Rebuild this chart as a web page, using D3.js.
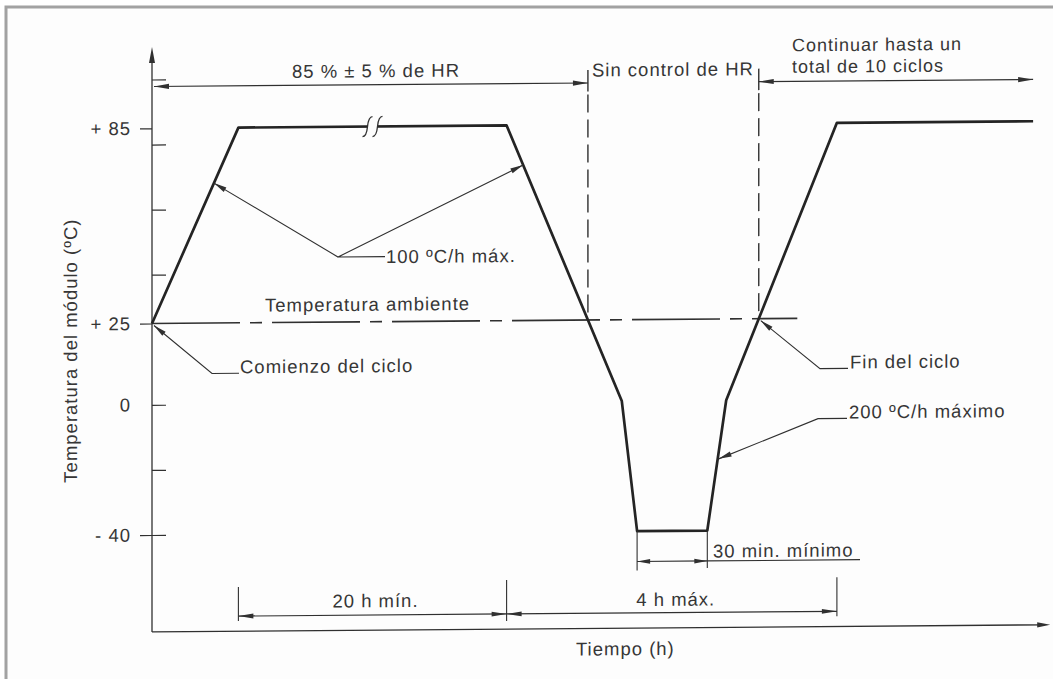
<!DOCTYPE html>
<html>
<head>
<meta charset="utf-8">
<script src="https://cdn.jsdelivr.net/npm/d3@7"></script>
<style>
  html, body { margin: 0; padding: 0; background: #fff; }
  svg text {
    font-family: "Liberation Sans", Arial, Helvetica, sans-serif;
    font-size: 18.5px;
    letter-spacing: 1px;
    fill: #363636;
  }
  svg text.tight { font-size: 18px; }
</style>
</head>
<body>
<svg id="chart" width="1053" height="679"></svg>
<script>
// Humidity-freeze cycle: module temperature (ºC) against schematic time
const profileTime = [0, 9.6, 39.4, 52.2, 53.9, 61.7, 63.8, 76.1, 97.9];
const profileTemp = [25, 85, 85, 0, -40, -40, 0, 85, 85];

// Y-axis ticks
const tickLeft = [85, 25, 0, -40];
const tickLeftLabels = ["+ 85", "+ 25", "0", "- 40"];
const tickRight = [100, 80, 60, 40, 0, -20, -40];

// Reference levels
const ambientTemp = 25;
const ambientEnd = 71.7;        // time where the ambient line stops
const axisTempRange = [-69.8, 110];
const axisTimeEnd = 99.8;

// Rates marked on the ramps (temperature at the arrow tip)
const heatRateTips = [68, 72.8];
const coolRateTip = -18;

// Texts
const yTitle = "Temperatura del módulo (ºC)";
const xTitle = "Tiempo (h)";
const humidityLabel = "85 % ± 5 % de HR";
const noControlLabel = "Sin control de HR";
const continueLabel = ["Continuar hasta un", "total de 10 ciclos"];
const ambientLabel = "Temperatura ambiente";
const startLabel = "Comienzo del ciclo";
const endLabel = "Fin del ciclo";
const heatRateLabel = "100 ºC/h máx.";
const coolRateLabel = "200 ºC/h máximo";
const soakLabel = "20 h mín.";
const coldLabel = "4 h máx.";
const dwellLabel = "30 min. mínimo";

const profile = profileTime.map((t, i) => ({ t, T: profileTemp[i] }));

const svg = d3.select("#chart");
const INK = "#303030";

// page frame
svg.append("rect")
  .attr("x", 6).attr("y", 7).attr("width", 1070).attr("height", 700)
  .attr("fill", "#fdfdfd").attr("stroke", "#a2a2a2").attr("stroke-width", 3);

// slight upward slant across the drawing
const g = svg.append("g").attr("transform", "translate(0,1.22) skewY(-0.46)");

const x = d3.scaleLinear().domain([0, 100]).range([152, 1052]);
const y = d3.scaleLinear().domain([-40, 85]).range([535, 128.3]);

// time on segment i..i+1 where the profile reaches temperature T
function timeAt(i, T) {
  const a = profile[i], b = profile[i + 1];
  return a.t + (b.t - a.t) * (T - a.T) / (b.T - a.T);
}
const hrStart = timeAt(2, ambientTemp);
const hrEnd = timeAt(6, ambientTemp);
const soakStart = profile[1].t, soakEnd = profile[2].t;
const coldStart = profile[4].t, coldEnd = profile[5].t;
const nextSoak = profile[7].t, lastT = profile[8].t;

function arrowHead(sel, tx, ty, fx, fy, len, hw) {
  const dx = tx - fx, dy = ty - fy, d = Math.hypot(dx, dy);
  const ux = dx / d, uy = dy / d;
  const bx = tx - ux * len, by = ty - uy * len;
  sel.append("path")
    .attr("d", `M${tx},${ty}L${bx - uy * hw},${by + ux * hw}L${bx + uy * hw},${by - ux * hw}Z`)
    .attr("fill", INK);
}
function line(sel, x1, y1, x2, y2, w, dash) {
  const l = sel.append("line")
    .attr("x1", x1).attr("y1", y1).attr("x2", x2).attr("y2", y2)
    .attr("stroke", INK).attr("stroke-width", w || 1.2);
  if (dash) l.attr("stroke-dasharray", dash);
  return l;
}
function dimension(sel, x1, x2, yy, len, hw) {
  line(sel, x1, yy, x2, yy, 1.2);
  arrowHead(sel, x1, yy, x2, yy, len, hw);
  arrowHead(sel, x2, yy, x1, yy, len, hw);
}
function text(sel, str, tx, ty, anchor) {
  return sel.append("text").attr("x", tx).attr("y", ty)
    .attr("text-anchor", anchor || "start").text(str);
}

// ---- axes ----
const x0 = x(0), yBottom = y(axisTempRange[0]), yTop = y(axisTempRange[1]);
line(g, x0, yBottom, x0, yTop + 6, 1.3);
arrowHead(g, x0, yTop, x0, yBottom, 16, 3);
line(g, x0, yBottom, x(axisTimeEnd) - 6, yBottom, 1.3);
arrowHead(g, x(axisTimeEnd), yBottom, x0, yBottom, 13, 2.6);

const axL = g.append("g")
  .attr("transform", `translate(${x0},0)`)
  .style("color", INK)
  .call(d3.axisLeft(y).tickValues(tickLeft)
    .tickFormat((d, i) => tickLeftLabels[i])
    .tickSizeInner(12).tickSizeOuter(0).tickPadding(9));
axL.select(".domain").remove();
axL.selectAll(".tick line").attr("stroke-width", 1.2).filter(d => d === 0).remove();

const axR = g.append("g")
  .attr("transform", `translate(${x0},0)`)
  .style("color", INK)
  .call(d3.axisRight(y).tickValues(tickRight).tickFormat("")
    .tickSizeInner(14).tickSizeOuter(0));
axR.select(".domain").remove();
axR.selectAll(".tick line").attr("stroke-width", 1.2);

g.append("text")
  .attr("transform", `translate(77,350) rotate(-90)`)
  .attr("text-anchor", "middle").text(yTitle);
text(g, xTitle, 576, 659);

// ---- ambient reference line ----
line(g, x0, y(ambientTemp), x(ambientEnd), y(ambientTemp), 1.6, "88,10,12,10");
text(g, ambientLabel, 265, 312.5);

// ---- humidity-control boundaries ----
const dimTop = 86.5;
[hrStart, hrEnd].forEach(t => {
  line(g, x(t), 73.5, x(t), 95, 1.4);
  line(g, x(t), 98, x(t), y(ambientTemp), 1.4, "18,7");
});
dimension(g, x0 + 2, x(hrStart), dimTop, 15, 2.6);
dimension(g, x(hrEnd), x(lastT), dimTop, 15, 2.6);
text(g, humidityLabel, 292, 79);
text(g, noControlLabel, 592, 80);
text(g, continueLabel[0], 792, 56.5).attr("class", "tight");
text(g, continueLabel[1], 792, 78).attr("class", "tight");

// ---- temperature profile ----
g.append("path")
  .datum(profile)
  .attr("d", d3.line().x(d => x(d.t)).y(d => y(d.T)))
  .attr("fill", "none").attr("stroke", "#242424")
  .attr("stroke-width", 2.7).attr("stroke-linejoin", "round");

// break in the long soak
const bx = x((soakStart + soakEnd) / 2), by = y(85);
line(g, bx - 5, by, bx + 5, by, 5).attr("stroke", "#fdfdfd");
[-5, 5].forEach(o => {
  const cx = bx + o;
  g.append("path")
    .attr("d", `M${cx - 5},${by + 10}Q${cx - 1},${by + 10} ${cx},${by}T${cx + 5},${by - 10}`)
    .attr("fill", "none").attr("stroke", INK).attr("stroke-width", 1.3);
});

// ---- leaders ----
// heating rate
const hv = [338, 258.5];
const hTipL = [x(timeAt(0, heatRateTips[0])), y(heatRateTips[0])];
const hTipR = [x(timeAt(2, heatRateTips[1])), y(heatRateTips[1])];
g.append("path").attr("d", `M${hTipL}L${hv}L${hTipR}M${hv}L385,${hv[1]}`)
  .attr("fill", "none").attr("stroke", INK).attr("stroke-width", 1.1);
arrowHead(g, hTipL[0], hTipL[1], hv[0], hv[1], 13, 2.6);
arrowHead(g, hTipR[0], hTipR[1], hv[0], hv[1], 13, 2.6);
text(g, heatRateLabel, 386, 265);

// cycle start
const sTip = [x(profile[0].t) + 2, y(profile[0].T) + 2];
g.append("path").attr("d", `M${sTip}L212,374L239,374`)
  .attr("fill", "none").attr("stroke", INK).attr("stroke-width", 1.1);
arrowHead(g, sTip[0], sTip[1], 212, 374, 13, 2.6);
text(g, startLabel, 240, 374);

// cycle end
const eTip = [x(hrEnd) + 2, y(ambientTemp) + 2];
g.append("path").attr("d", `M${eTip}L820,374L848,374`)
  .attr("fill", "none").attr("stroke", INK).attr("stroke-width", 1.1);
arrowHead(g, eTip[0], eTip[1], 820, 374, 13, 2.6);
text(g, endLabel, 850, 374);

// cooling / warming rate
const cTip = [x(timeAt(5, coolRateTip)) + 1, y(coolRateTip)];
g.append("path").attr("d", `M${cTip}L818,424L847,424`)
  .attr("fill", "none").attr("stroke", INK).attr("stroke-width", 1.1);
arrowHead(g, cTip[0], cTip[1], 818, 424, 13, 2.6);
text(g, coolRateLabel, 849, 424);

// ---- duration dimensions ----
const dwellY = 565.4;
line(g, x(coldStart), y(-40), x(coldStart), dwellY + 9, 1.1);
line(g, x(coldEnd), y(-40), x(coldEnd), dwellY + 7, 1.1);
dimension(g, x(coldStart), x(coldEnd), dwellY, 13, 2.4);
line(g, x(coldEnd), dwellY, 860, dwellY, 1.2);
text(g, dwellLabel, 713, 562);

const durY = 616.8;
line(g, x(soakStart), durY - 29, x(soakStart), durY + 5, 1.1);
line(g, x(soakEnd), durY - 34, x(soakEnd), durY + 7, 1.1);
line(g, x(nextSoak), durY - 34, x(nextSoak), durY + 5, 1.1);
dimension(g, x(soakStart), x(soakEnd), durY, 15, 2.4);
dimension(g, x(soakEnd), x(nextSoak), durY, 15, 2.4);
text(g, soakLabel, (x(soakStart) + x(soakEnd)) / 2 + 3, 609, "middle");
text(g, coldLabel, (x(soakEnd) + x(nextSoak)) / 2 + 4, 610, "middle");
</script>
</body>
</html>
